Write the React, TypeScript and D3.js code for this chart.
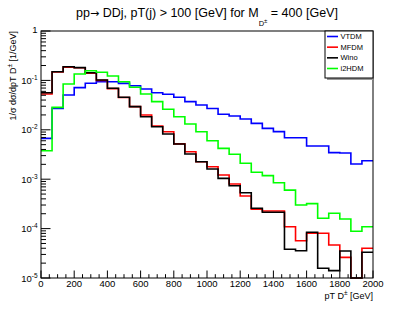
import React, { useEffect, useRef } from "react";
import * as d3 from "d3";

// histogram binning: 30 bins from 0 to 2000 GeV
const xMin = 0;
const xMax = 2000;
const nBins = 30;
const xTicks = [0, 200, 400, 600, 800, 1000, 1200, 1400, 1600, 1800, 2000];
const yDecades = [-5, -4, -3, -2, -1, 0];

const seriesNames = ["VTDM", "MFDM", "Wino", "i2HDM"];
const seriesColors = ["#0000ff", "#ff0000", "#000000", "#00ff00"];

const vtdm = [
  0.0067, 0.0272, 0.0506, 0.0713, 0.0873, 0.0942, 0.094, 0.087, 0.078, 0.067,
  0.0564, 0.0523, 0.0455, 0.0371, 0.0318, 0.027, 0.0206, 0.019, 0.0165, 0.0135,
  0.0107, 0.0092, 0.0069, 0.0069, 0.0047, 0.0047, 0.00345, 0.0034, 0.00203, 0.00237,
];
const mfdm = [
  0.053, 0.148, 0.186, 0.18, 0.14, 0.1, 0.068, 0.045, 0.0294, 0.0199,
  0.0119, 0.00916, 0.0052, 0.0036, 0.00226, 0.00179, 0.00122, 0.0008, 0.000457, 0.000246,
  0.000227, 0.000227, 0.000109, 0.0000569, 0.0000804, 0.0000804, 0.0000466, 0.0000262, 0, 0.0000399,
];
const wino = [
  0.0564, 0.15, 0.189, 0.181, 0.143, 0.102, 0.0692, 0.0455, 0.0294, 0.0184,
  0.01156, 0.00822, 0.00516, 0.00324, 0.00226, 0.00161, 0.00104, 0.000738, 0.000533, 0.000258,
  0.000214, 0.000214, 0.0000381, 0.0000357, 0.0000842, 0.0000157, 0.0000141, 0.0000352, 0, 0.0000331,
];
const i2hdm = [
  0.00377, 0.0285, 0.0846, 0.135, 0.157, 0.146, 0.123, 0.094, 0.0725, 0.0531,
  0.0371, 0.026, 0.0184, 0.0131, 0.00916, 0.006, 0.0042, 0.0032, 0.0021, 0.00138,
  0.00118, 0.00085, 0.0006, 0.0003, 0.00032, 0.000162, 0.000204, 0.000156, 0.0000886, 0.000109,
];

const FONT = "'Liberation Sans', Arial, Helvetica, sans-serif";

const Chart = () => {
  const svgRef = useRef<SVGSVGElement>(null);

  useEffect(() => {
    const width = 415;
    const height = 309;
    const left = 41, right = 373, top = 31, bottom = 278;

    const svg = d3.select(svgRef.current).attr("width", width).attr("height", height);
    svg.selectAll("*").remove();

    svg.append("rect").attr("width", width).attr("height", height).attr("fill", "#fff");

    const x = d3.scaleLinear().domain([xMin, xMax]).range([left, right]);
    const y = d3.scaleLog().domain([1e-5, 1]).range([bottom, top]).clamp(true);

    const binW = (xMax - xMin) / nBins;
    const edges = d3.range(nBins + 1).map((i) => xMin + i * binW);

    const line = d3
      .line<[number, number]>()
      .x((d) => x(d[0]))
      .y((d) => y(d[1] > 0 ? d[1] : 1e-5))
      .curve(d3.curveStepAfter);

    const allSeries = [vtdm, mfdm, wino, i2hdm];
    allSeries.forEach((vals, k) => {
      const pts: [number, number][] = vals.map((v, i) => [edges[i], v]);
      pts.push([xMax, vals[vals.length - 1]]);
      svg.append("path")
        .attr("d", line(pts))
        .attr("fill", "none")
        .attr("stroke", seriesColors[k])
        .attr("stroke-width", 1.6);
    });

    // frame
    svg.append("rect")
      .attr("x", left).attr("y", top)
      .attr("width", right - left).attr("height", bottom - top)
      .attr("fill", "none").attr("stroke", "#000").attr("stroke-width", 1);

    // x ticks
    const xMinor = d3.range(xMin, xMax + 1, 50);
    xMinor.forEach((v) => {
      const major = v % 200 === 0;
      svg.append("line")
        .attr("x1", x(v)).attr("x2", x(v))
        .attr("y1", bottom).attr("y2", bottom - (major ? 7.5 : 3.8))
        .attr("stroke", "#000").attr("stroke-width", 1);
    });
    xTicks.forEach((v) => {
      svg.append("text")
        .attr("x", x(v)).attr("y", 287)
        .attr("text-anchor", "middle")
        .attr("font-family", FONT).attr("font-size", 9.5)
        .text(v);
    });

    // y ticks
    yDecades.forEach((d) => {
      const base = Math.pow(10, d);
      svg.append("line")
        .attr("x1", left).attr("x2", left + 9.5)
        .attr("y1", y(base)).attr("y2", y(base))
        .attr("stroke", "#000");
      if (d < 0) {
        for (let m = 2; m <= 9; m++) {
          svg.append("line")
            .attr("x1", left).attr("x2", left + 5)
            .attr("y1", y(base * m)).attr("y2", y(base * m))
            .attr("stroke", "#000");
        }
      }
      const t = svg.append("text")
        .attr("y", y(base) + 3.5)
        .attr("font-family", FONT).attr("font-size", 9.5)
        .attr("text-anchor", "end");
      if (d === 0) {
        t.attr("x", 37.5).attr("y", y(base) + 2).text("1");
      } else {
        t.attr("x", 37.5);
        t.append("tspan").text("10");
        t.append("tspan").attr("font-size", 6.5).attr("dy", -4).text(`-${-d}`);
      }
    });

    // title
    const title = svg.append("text")
      .attr("x", 207).attr("y", 17)
      .attr("text-anchor", "middle")
      .attr("font-family", FONT).attr("font-size", 12.5);
    title.append("tspan").text("pp");
    title.append("tspan").attr("font-family", "'DejaVu Sans', sans-serif").attr("font-size", 11).text("\u2192");
    title.append("tspan").text(" DDj, pT(j) > 100 [GeV] for M");
    title.append("tspan").attr("font-size", 7.5).attr("dy", 9).text("D");
    title.append("tspan").attr("font-size", 6).attr("dy", -3).text("\u00b1");
    title.append("tspan").attr("dy", -6).text(" = 400 [GeV]");

    // axis titles
    const xt = svg.append("text")
      .attr("x", right).attr("y", 299)
      .attr("text-anchor", "end")
      .attr("font-family", FONT).attr("font-size", 9);
    xt.append("tspan").text("pT D");
    xt.append("tspan").attr("font-size", 6.5).attr("dy", -4).text("\u00b1");
    xt.append("tspan").attr("dy", 4).text(" [GeV]");

    const yt = svg.append("text")
      .attr("transform", `translate(16,${top}) rotate(-90)`)
      .attr("text-anchor", "end")
      .attr("font-family", FONT).attr("font-size", 9);
    yt.append("tspan").text("1/\u03c3 d\u03c3/dpT D");
    yt.append("tspan").attr("font-size", 6.5).attr("dy", -4).text("\u00b1");
    yt.append("tspan").attr("dy", 4).text(" [1/GeV]");

    // legend
    const lgX0 = 325, lgX1 = right, lgY0 = top, lgY1 = 78;
    svg.append("rect")
      .attr("x", lgX0 + 2).attr("y", lgY1)
      .attr("width", lgX1 - lgX0 - 2).attr("height", 2)
      .attr("fill", "#999");
    svg.append("rect")
      .attr("x", lgX0).attr("y", lgY0)
      .attr("width", lgX1 - lgX0).attr("height", lgY1 - lgY0)
      .attr("fill", "#fff").attr("stroke", "#000").attr("stroke-width", 1);
    const rowY = d3.scalePoint<string>().domain(seriesNames).range([36.5, 68.5]);
    seriesNames.forEach((name, k) => {
      const yy = rowY(name) as number;
      svg.append("line")
        .attr("x1", 327).attr("x2", 338)
        .attr("y1", yy).attr("y2", yy)
        .attr("stroke", seriesColors[k]).attr("stroke-width", 1.6);
      svg.append("text")
        .attr("x", 340.5).attr("y", yy + 2.5)
        .attr("font-family", FONT).attr("font-size", 7.5)
        .text(name);
    });
  }, []);

  return <svg ref={svgRef} style={{ position: "absolute", left: 0, top: 0 }}></svg>;
};

export default function App() {
  return <Chart />;
}
